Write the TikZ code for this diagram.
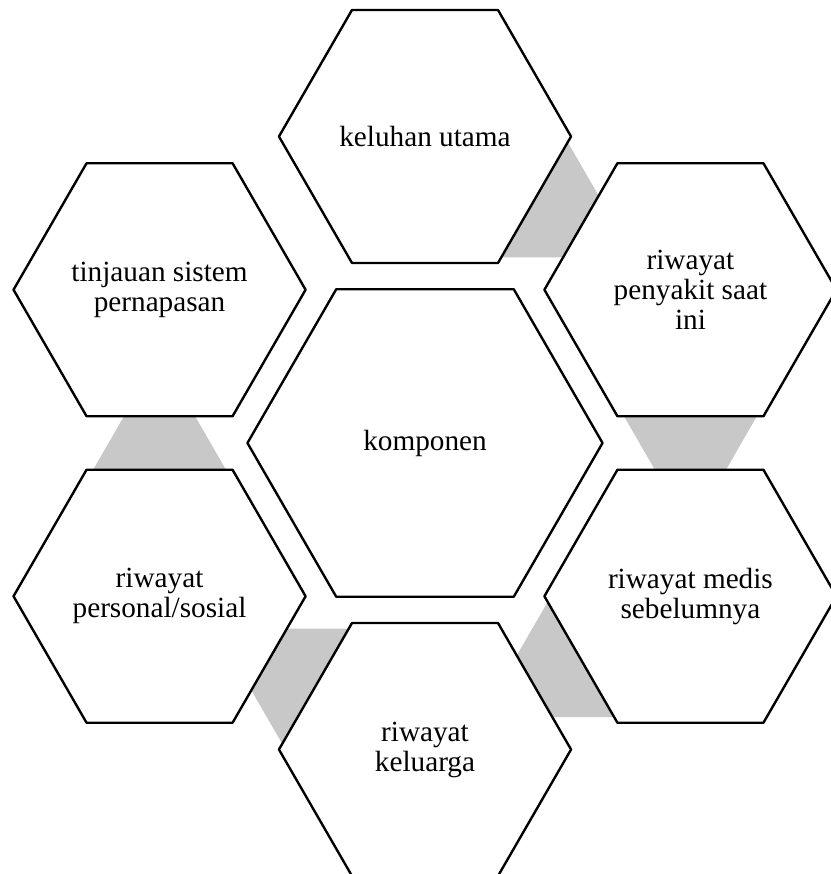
\documentclass[tikz,border=0pt]{standalone}
\usepackage{fontspec}
\setmainfont{Liberation Serif}
\usetikzlibrary{shapes.geometric,calc,backgrounds}
\definecolor{linkgray}{RGB}{200,200,200}
\begin{document}
\begin{tikzpicture}[x=.025cm, y=.025cm, font=\fontsize{20.8}{21.3}\selectfont, line join=round,
	hexa/.style={draw, fill=white, line width=1.7pt, regular polygon, regular polygon sides=6, inner sep=0pt, minimum size=7.3cm, align=center},
	hexabig/.style={hexa, minimum size=8.875cm}]
	\useasboundingbox (-425,-431) rectangle (405,443);
	\node[hexabig] (komponen) at (0,0) {komponen};
	\node[hexa] (keluhan) at (90:306.5) {keluhan utama};
	\node[hexa] (penyakit) at (30:306.5) {riwayat\\penyakit saat\\ini};
	\node[hexa] (medis) at (-30:306.5) {riwayat medis\\sebelumnya};
	\node[hexa] (keluarga) at (-90:306.5) {riwayat\\keluarga};
	\node[hexa] (personal) at (-150:306.5) {riwayat\\personal/sosial};
	\node[hexa] (tinjauan) at (150:306.5) {tinjauan sistem\\pernapasan};
	% gray links, behind the hexagons
	\begin{scope}[on background layer]
		\foreach \a/\b/\r in {keluhan/penyakit/-30, penyakit/medis/-90, medis/keluarga/-150, keluarga/personal/150, personal/tinjauan/90}
			\fill[linkgray, shift={($(\a)!.5!(\b)$)}, rotate=\r] (-60,-85.6)--(-60,85.6)--(60,16.4)--(60,-16.4)--cycle;
	\end{scope}
\end{tikzpicture}
\end{document}
